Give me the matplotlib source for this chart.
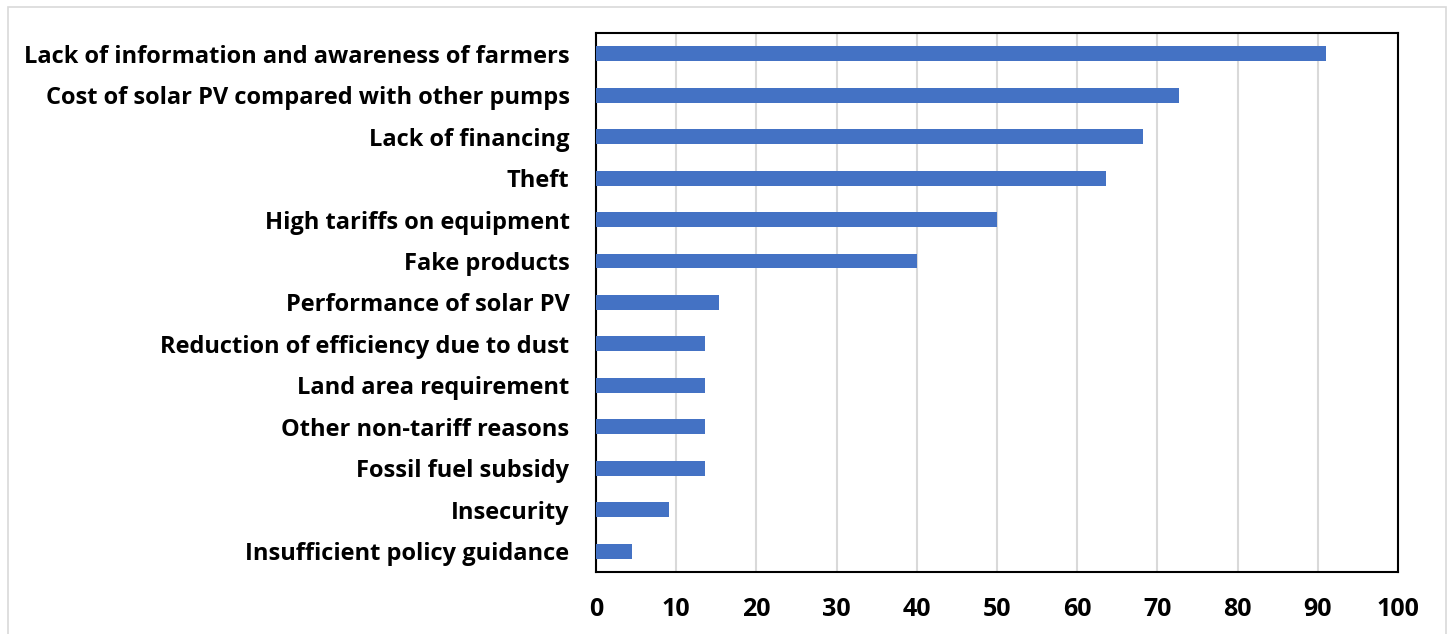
import matplotlib.pyplot as plt
from matplotlib.patches import Rectangle

# Barriers to solar PV pump adoption (% of respondents)
barriers = [
    'Lack of information and awareness of farmers',
    'Cost of solar PV compared with other pumps',
    'Lack of financing',
    'Theft',
    'High tariffs on equipment',
    'Fake products',
    'Performance of solar PV',
    'Reduction of efficiency due to dust',
    'Land area requirement',
    'Other non-tariff reasons',
    'Fossil fuel subsidy',
    'Insecurity',
    'Insufficient policy guidance',
]
percent = [91.0, 72.7, 68.2, 63.6, 50.0, 40.0, 15.4, 13.6, 13.6, 13.6, 13.6, 9.1, 4.5]
xticks = list(range(0, 101, 10))

plt.rcParams['font.family'] = ['Open Sans', 'DejaVu Sans']

fig = plt.figure(figsize=(14.48, 6.34), dpi=100)
ax = fig.add_axes([0.4116, 0.0978, 0.5538, 0.8502])

ypos = list(range(len(barriers)))[::-1]
ax.barh(ypos, percent, height=0.36, color='#4472C4', zorder=3)

ax.set_xlim(0, 100)
ax.set_ylim(-0.5, len(barriers) - 0.5)
ax.set_xticks(xticks)
ax.set_xticklabels([str(t) for t in xticks], fontsize=18, fontweight='bold')
ax.set_yticks(ypos)
ax.set_yticklabels(barriers, fontsize=17, fontweight='bold')
ax.tick_params(axis='both', length=0)
ax.tick_params(axis='x', pad=18)
ax.tick_params(axis='y', pad=19)

ax.grid(axis='x', color='#d9d9d9', linewidth=1.5, zorder=0)
for s in ax.spines.values():
    s.set_color('black')
    s.set_linewidth(1.5)

# light chart-area border
fig.patches.append(Rectangle((8 / 1448, -0.01), 1438 / 1448, 1 - 7 / 634 + 0.01,
                             transform=fig.transFigure, fill=False,
                             edgecolor='#d9d9d9', linewidth=1.2))

fig.savefig('out.png', dpi=100)
